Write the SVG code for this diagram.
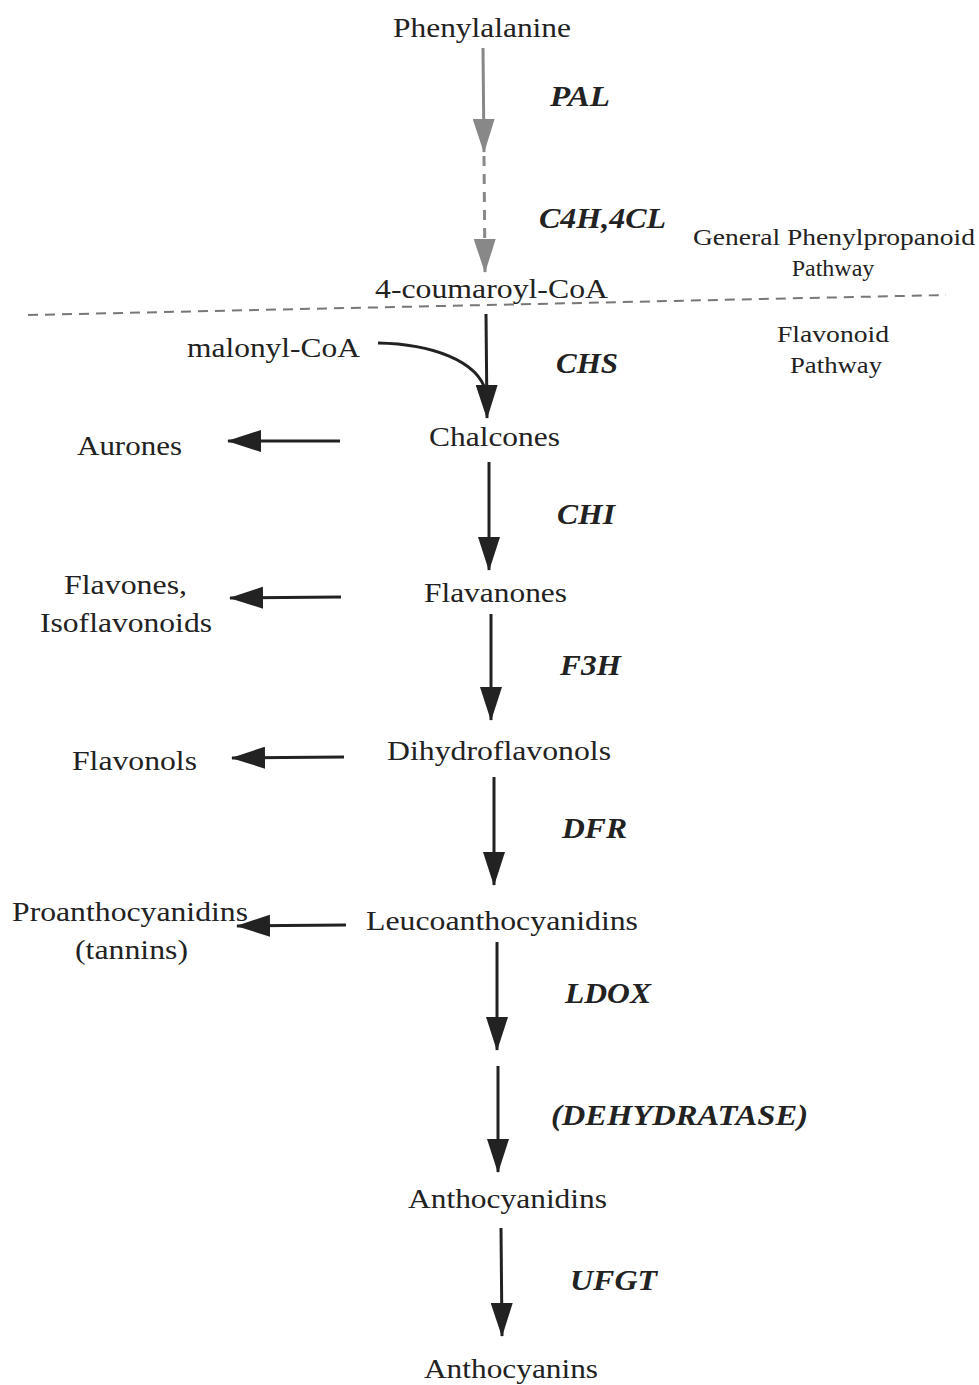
<svg xmlns="http://www.w3.org/2000/svg" width="979" height="1385" viewBox="0 0 979 1385">
<defs>
<style>
text{font-family:'Liberation Serif','Times New Roman',Times,serif;fill:#222}
.t{font-size:28px}
.s{font-size:24px}
.e{font-size:30px;font-weight:bold;font-style:italic}
.b{stroke:#222;stroke-width:3;fill:none}
.g{stroke:#888;stroke-width:3;fill:none}
</style>
<marker id="ab" markerUnits="userSpaceOnUse" markerWidth="34" markerHeight="22" refX="33" refY="11" orient="auto" viewBox="0 0 34 22">
<path d="M0,0 L34,11 L0,22 Z" fill="#222"/>
</marker>
<marker id="ag" markerUnits="userSpaceOnUse" markerWidth="34" markerHeight="22" refX="33" refY="11" orient="auto" viewBox="0 0 34 22">
<path d="M0,0 L34,11 L0,22 Z" fill="#888"/>
</marker>
</defs>
<rect width="979" height="1385" fill="#fff"/>
<g id="connectors">
<line class="g" x1="483" y1="48" x2="484" y2="152" marker-end="url(#ag)"/>
<line class="g" x1="484" y1="156" x2="485" y2="272" stroke-dasharray="10,8" stroke-width="1.5" marker-end="url(#ag)"/>
<line x1="28" y1="315" x2="946" y2="295" stroke="#777" stroke-width="2" stroke-dasharray="10,7"/>
<line class="b" x1="486" y1="314" x2="487" y2="418" marker-end="url(#ab)"/>
<path class="b" d="M378,343 C430,344 478,360 486,392"/>
<line class="b" x1="340" y1="441" x2="228" y2="441" marker-end="url(#ab)"/>
<line class="b" x1="489" y1="462" x2="489" y2="570" marker-end="url(#ab)"/>
<line class="b" x1="341" y1="597" x2="230" y2="598" marker-end="url(#ab)"/>
<line class="b" x1="491" y1="614" x2="491" y2="720" marker-end="url(#ab)"/>
<line class="b" x1="344" y1="757" x2="232" y2="758" marker-end="url(#ab)"/>
<line class="b" x1="494" y1="777" x2="494" y2="885" marker-end="url(#ab)"/>
<line class="b" x1="346" y1="925" x2="237" y2="926" marker-end="url(#ab)"/>
<line class="b" x1="497" y1="942" x2="497" y2="1050" marker-end="url(#ab)"/>
<line class="b" x1="498" y1="1066" x2="498" y2="1172" marker-end="url(#ab)"/>
<line class="b" x1="501" y1="1228" x2="502" y2="1336" marker-end="url(#ab)"/>
</g>
<g id="phenylalanine"><text class="t" x="393" y="37" textLength="178" lengthAdjust="spacingAndGlyphs">Phenylalanine</text></g>
<g id="pal"><text class="e" x="550" y="106" textLength="60" lengthAdjust="spacingAndGlyphs">PAL</text></g>
<g id="c4h"><text class="e" x="539" y="228" textLength="127" lengthAdjust="spacingAndGlyphs">C4H,4CL</text></g>
<g id="general"><text class="s" x="693" y="245" textLength="282" lengthAdjust="spacingAndGlyphs">General Phenylpropanoid</text><text class="s" x="833" y="276" text-anchor="middle">Pathway</text></g>
<g id="coumaroyl"><text class="t" x="375" y="298" textLength="233" lengthAdjust="spacingAndGlyphs">4-coumaroyl-CoA</text></g>
<g id="malonyl"><text class="t" x="187" y="357" textLength="173" lengthAdjust="spacingAndGlyphs">malonyl-CoA</text></g>
<g id="chs"><text class="e" x="556" y="373" textLength="62" lengthAdjust="spacingAndGlyphs">CHS</text></g>
<g id="flavonoid"><text class="s" x="777" y="342" textLength="112" lengthAdjust="spacingAndGlyphs">Flavonoid</text><text class="s" x="790" y="373" textLength="92" lengthAdjust="spacingAndGlyphs">Pathway</text></g>
<g id="chalcones"><text class="t" x="429" y="446" textLength="131" lengthAdjust="spacingAndGlyphs">Chalcones</text></g>
<g id="aurones"><text class="t" x="77" y="455" textLength="105" lengthAdjust="spacingAndGlyphs">Aurones</text></g>
<g id="chi"><text class="e" x="557" y="524" textLength="58" lengthAdjust="spacingAndGlyphs">CHI</text></g>
<g id="flavanones"><text class="t" x="424" y="602" textLength="143" lengthAdjust="spacingAndGlyphs">Flavanones</text></g>
<g id="flavones"><text class="t" x="64" y="594" textLength="123" lengthAdjust="spacingAndGlyphs">Flavones,</text><text class="t" x="40" y="632" textLength="172" lengthAdjust="spacingAndGlyphs">Isoflavonoids</text></g>
<g id="f3h"><text class="e" x="560" y="675" textLength="61" lengthAdjust="spacingAndGlyphs">F3H</text></g>
<g id="dihydroflavonols"><text class="t" x="387" y="760" textLength="224" lengthAdjust="spacingAndGlyphs">Dihydroflavonols</text></g>
<g id="flavonols"><text class="t" x="72" y="770" textLength="125" lengthAdjust="spacingAndGlyphs">Flavonols</text></g>
<g id="dfr"><text class="e" x="562" y="838" textLength="65" lengthAdjust="spacingAndGlyphs">DFR</text></g>
<g id="leucoanthocyanidins"><text class="t" x="366" y="930" textLength="272" lengthAdjust="spacingAndGlyphs">Leucoanthocyanidins</text></g>
<g id="proanthocyanidins"><text class="t" x="12" y="921" textLength="236" lengthAdjust="spacingAndGlyphs">Proanthocyanidins</text><text class="t" x="75" y="959" textLength="113" lengthAdjust="spacingAndGlyphs">(tannins)</text></g>
<g id="ldox"><text class="e" x="565" y="1003" textLength="86" lengthAdjust="spacingAndGlyphs">LDOX</text></g>
<g id="dehydratase"><text class="e" x="551" y="1125" textLength="257" lengthAdjust="spacingAndGlyphs">(DEHYDRATASE)</text></g>
<g id="anthocyanidins"><text class="t" x="408" y="1208" textLength="199" lengthAdjust="spacingAndGlyphs">Anthocyanidins</text></g>
<g id="ufgt"><text class="e" x="570" y="1290" textLength="87" lengthAdjust="spacingAndGlyphs">UFGT</text></g>
<g id="anthocyanins"><text class="t" x="424" y="1378" textLength="174" lengthAdjust="spacingAndGlyphs">Anthocyanins</text></g>
</svg>
